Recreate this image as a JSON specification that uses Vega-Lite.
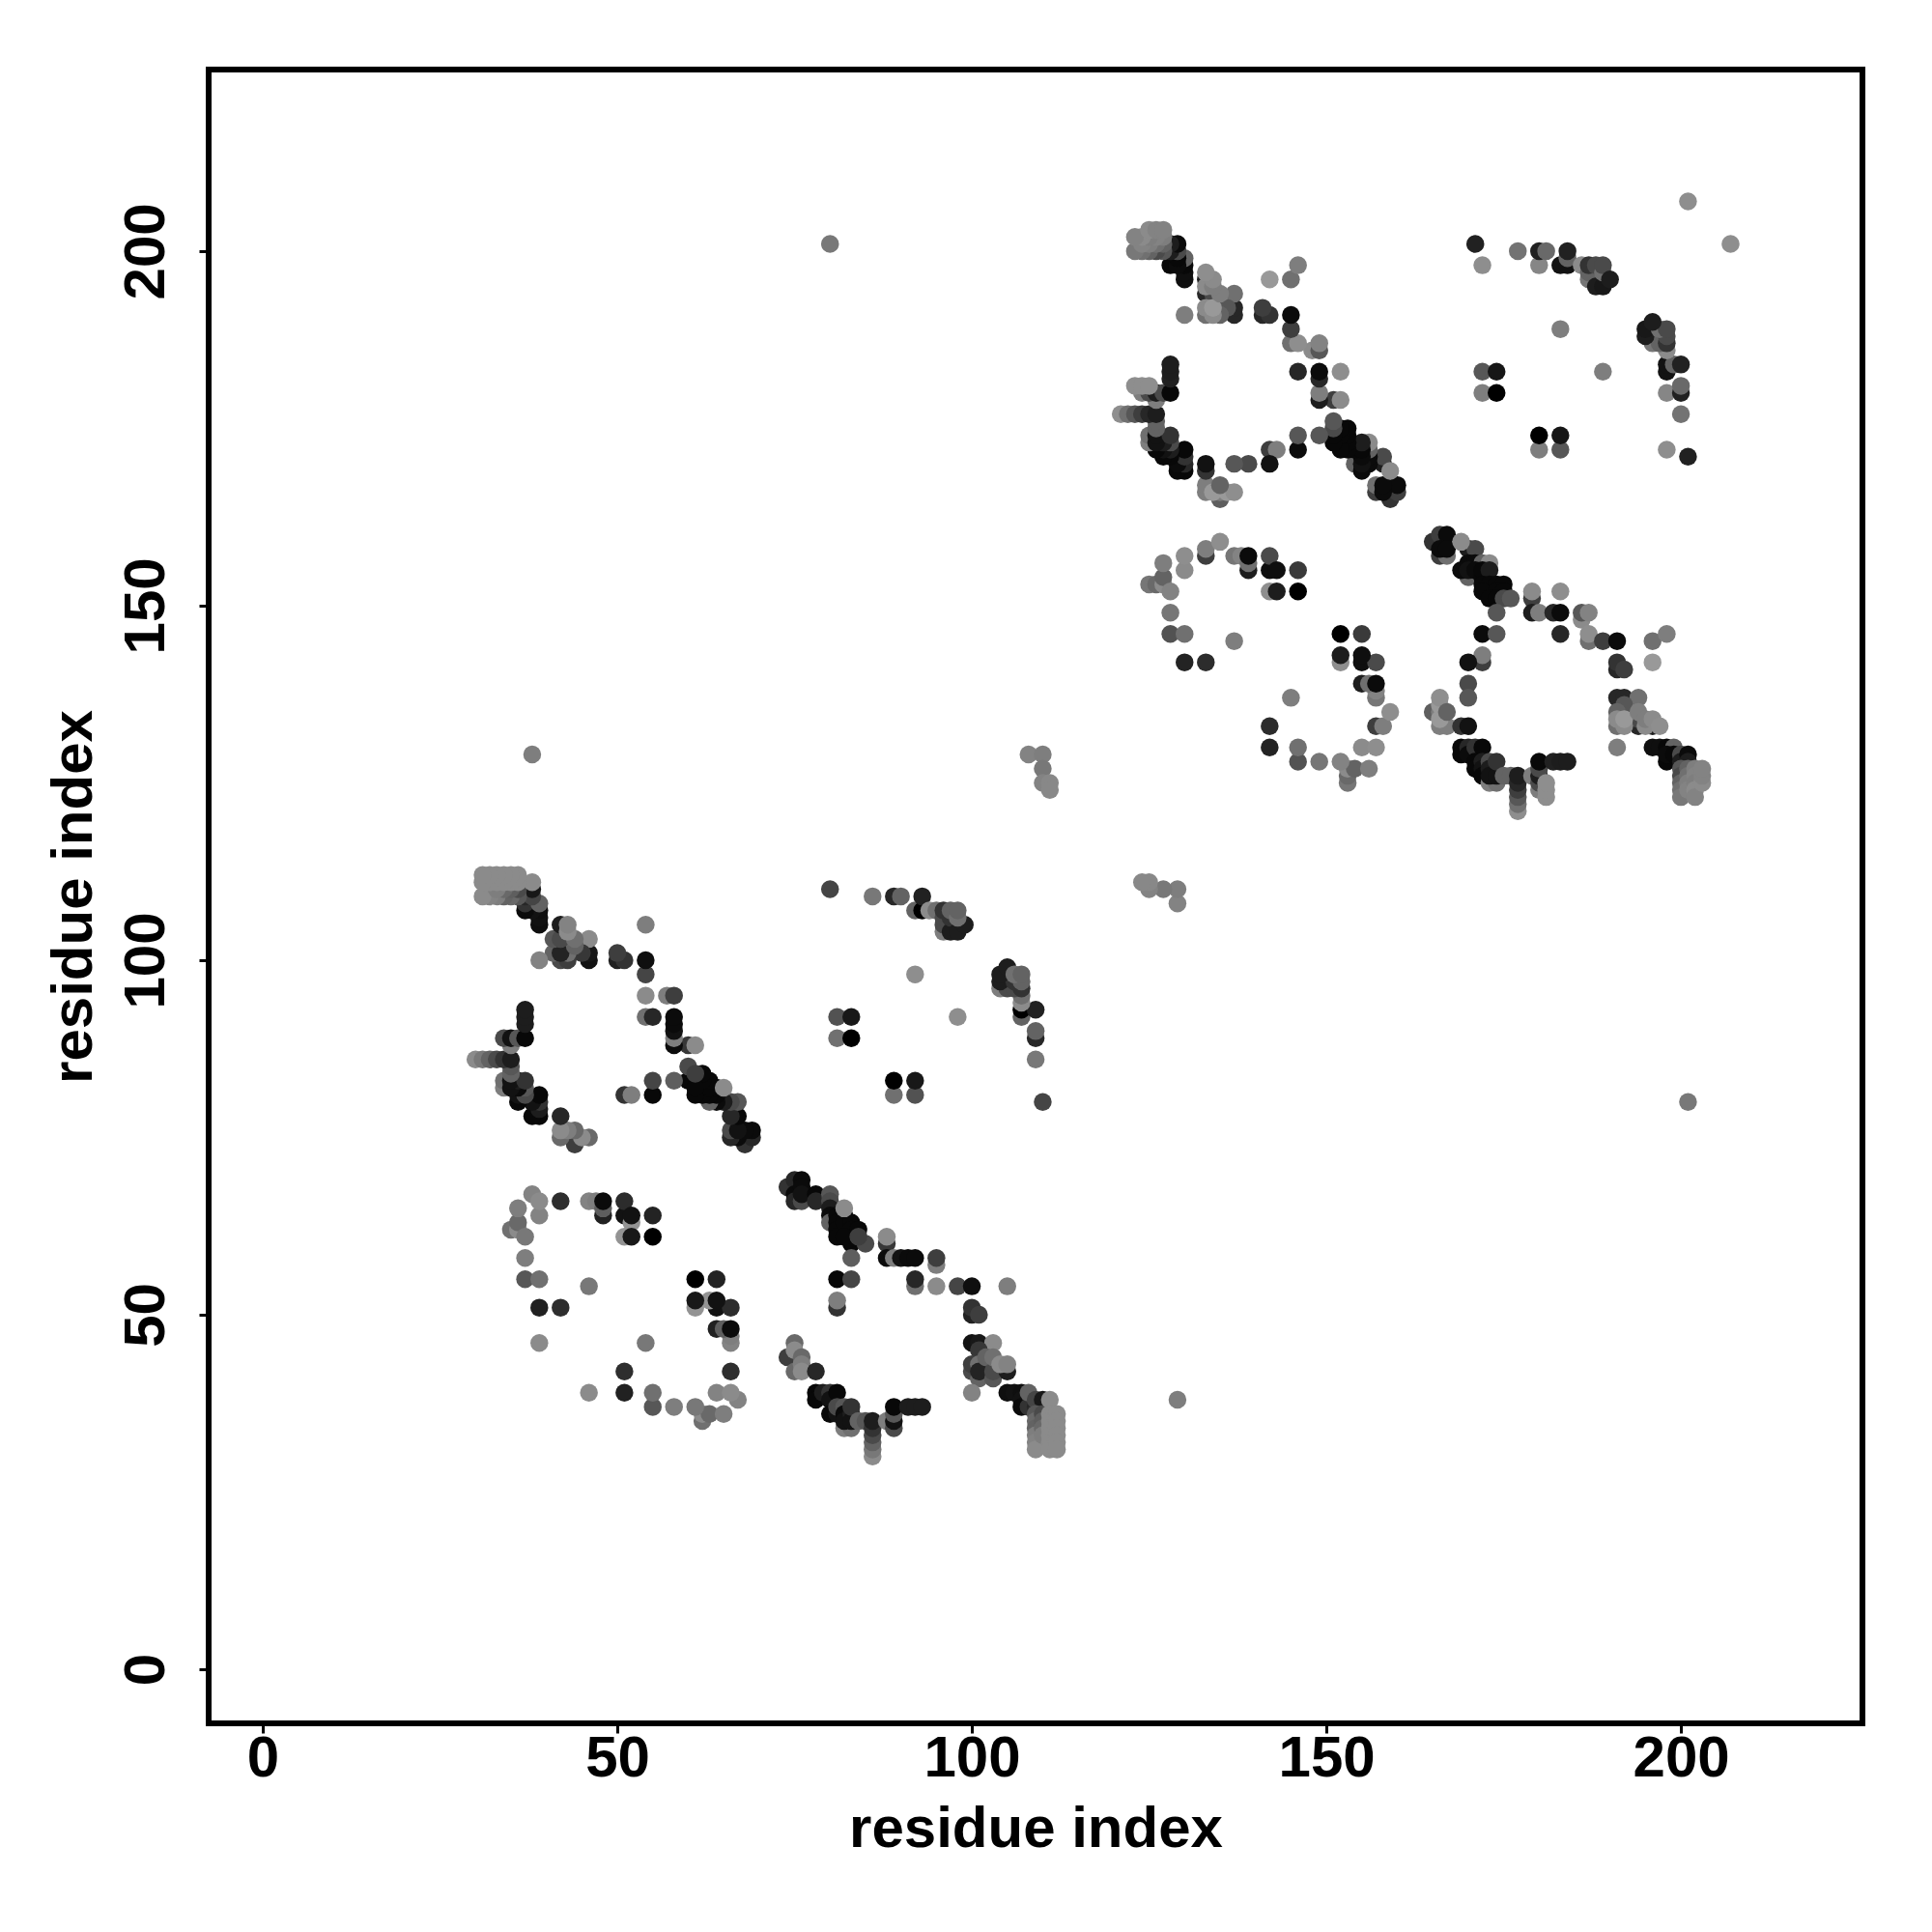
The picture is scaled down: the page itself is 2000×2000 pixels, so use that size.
{"$schema":"https://vega.github.io/schema/vega-lite/v6.json","width":1712,"height":1712,"autosize":{"type":"none"},"padding":{"left":216,"top":72,"right":72,"bottom":216},"background":"white","config":{"view":{"stroke":"#000000","strokeWidth":6}},"data":{"values":[
{"x":74,"y":68,"g":0.2},{"x":68,"y":74,"g":0.2},{"x":75,"y":69,"g":0.15},{"x":69,"y":75,"g":0.15},{"x":76,"y":69,"g":0.03},{"x":69,"y":76,"g":0.03},{"x":75,"y":67,"g":0.03},{"x":67,"y":75,"g":0.03},{"x":75,"y":66,"g":0.15},{"x":66,"y":75,"g":0.15},{"x":76,"y":66,"g":0.3},{"x":66,"y":76,"g":0.3},{"x":76,"y":68,"g":0.03},{"x":68,"y":76,"g":0.03},{"x":76,"y":67,"g":0.05},{"x":67,"y":76,"g":0.05},{"x":78,"y":67,"g":0.02},{"x":67,"y":78,"g":0.02},{"x":78,"y":66,"g":0.15},{"x":66,"y":78,"g":0.15},{"x":80,"y":67,"g":0.35},{"x":67,"y":80,"g":0.35},{"x":80,"y":66,"g":0.3},{"x":66,"y":80,"g":0.3},{"x":80,"y":65,"g":0.1},{"x":65,"y":80,"g":0.1},{"x":80,"y":64,"g":0.03},{"x":64,"y":80,"g":0.03},{"x":80,"y":63,"g":0.4},{"x":63,"y":80,"g":0.4},{"x":81,"y":64,"g":0.02},{"x":64,"y":81,"g":0.02},{"x":81,"y":63,"g":0.02},{"x":63,"y":81,"g":0.02},{"x":81,"y":62,"g":0.02},{"x":62,"y":81,"g":0.02},{"x":81,"y":61,"g":0.02},{"x":61,"y":81,"g":0.02},{"x":82,"y":64,"g":0.02},{"x":64,"y":82,"g":0.02},{"x":82,"y":63,"g":0.02},{"x":63,"y":82,"g":0.02},{"x":83,"y":63,"g":0.02},{"x":63,"y":83,"g":0.02},{"x":83,"y":62,"g":0.02},{"x":62,"y":83,"g":0.02},{"x":84,"y":62,"g":0.02},{"x":62,"y":84,"g":0.02},{"x":83,"y":60,"g":0.02},{"x":60,"y":83,"g":0.02},{"x":82,"y":61,"g":0.02},{"x":61,"y":82,"g":0.02},{"x":85,"y":60,"g":0.3},{"x":60,"y":85,"g":0.3},{"x":84,"y":61,"g":0.25},{"x":61,"y":84,"g":0.25},{"x":82,"y":65,"g":0.55},{"x":65,"y":82,"g":0.55},{"x":83,"y":58,"g":0.38},{"x":58,"y":83,"g":0.38},{"x":81,"y":55,"g":0.02},{"x":55,"y":81,"g":0.02},{"x":83,"y":55,"g":0.28},{"x":55,"y":83,"g":0.28},{"x":81,"y":51,"g":0.2},{"x":51,"y":81,"g":0.2},{"x":81,"y":52,"g":0.5},{"x":52,"y":81,"g":0.5},{"x":88,"y":60,"g":0.22},{"x":60,"y":88,"g":0.22},{"x":88,"y":61,"g":0.55},{"x":61,"y":88,"g":0.55},{"x":88,"y":58,"g":0.03},{"x":58,"y":88,"g":0.03},{"x":89,"y":58,"g":0.5},{"x":58,"y":89,"g":0.5},{"x":90,"y":58,"g":0.05},{"x":58,"y":90,"g":0.05},{"x":91,"y":58,"g":0.03},{"x":58,"y":91,"g":0.03},{"x":92,"y":58,"g":0.03},{"x":58,"y":92,"g":0.03},{"x":95,"y":57,"g":0.5},{"x":57,"y":95,"g":0.5},{"x":95,"y":58,"g":0.25},{"x":58,"y":95,"g":0.25},{"x":92,"y":54,"g":0.45},{"x":54,"y":92,"g":0.45},{"x":92,"y":55,"g":0.15},{"x":55,"y":92,"g":0.15},{"x":95,"y":54,"g":0.55},{"x":54,"y":95,"g":0.55},{"x":98,"y":54,"g":0.28},{"x":54,"y":98,"g":0.28},{"x":100,"y":54,"g":0.04},{"x":54,"y":100,"g":0.04},{"x":105,"y":54,"g":0.5},{"x":54,"y":105,"g":0.5},{"x":100,"y":50,"g":0.12},{"x":50,"y":100,"g":0.12},{"x":100,"y":51,"g":0.2},{"x":51,"y":100,"g":0.2},{"x":101,"y":50,"g":0.25},{"x":50,"y":101,"g":0.25},{"x":100,"y":46,"g":0.05},{"x":46,"y":100,"g":0.05},{"x":101,"y":46,"g":0.08},{"x":46,"y":101,"g":0.08},{"x":103,"y":46,"g":0.55},{"x":46,"y":103,"g":0.55},{"x":101,"y":45,"g":0.22},{"x":45,"y":101,"g":0.22},{"x":100,"y":42,"g":0.3},{"x":42,"y":100,"g":0.3},{"x":100,"y":43,"g":0.25},{"x":43,"y":100,"g":0.25},{"x":101,"y":41,"g":0.4},{"x":41,"y":101,"g":0.4},{"x":101,"y":43,"g":0.45},{"x":43,"y":101,"g":0.45},{"x":101,"y":42,"g":0.13},{"x":42,"y":101,"g":0.13},{"x":103,"y":41,"g":0.35},{"x":41,"y":103,"g":0.35},{"x":102,"y":44,"g":0.4},{"x":44,"y":102,"g":0.4},{"x":103,"y":42,"g":0.3},{"x":42,"y":103,"g":0.3},{"x":103,"y":44,"g":0.45},{"x":44,"y":103,"g":0.45},{"x":105,"y":42,"g":0.1},{"x":42,"y":105,"g":0.1},{"x":104,"y":43,"g":0.55},{"x":43,"y":104,"g":0.55},{"x":105,"y":43,"g":0.52},{"x":43,"y":105,"g":0.52},{"x":100,"y":39,"g":0.52},{"x":39,"y":100,"g":0.52},{"x":105,"y":39,"g":0.04},{"x":39,"y":105,"g":0.04},{"x":106,"y":39,"g":0.05},{"x":39,"y":106,"g":0.05},{"x":107,"y":39,"g":0.04},{"x":39,"y":107,"g":0.04},{"x":107,"y":38,"g":0.05},{"x":38,"y":107,"g":0.05},{"x":107,"y":37,"g":0.03},{"x":37,"y":107,"g":0.03},{"x":108,"y":37,"g":0.2},{"x":37,"y":108,"g":0.2},{"x":108,"y":39,"g":0.4},{"x":39,"y":108,"g":0.4},{"x":109,"y":37,"g":0.15},{"x":37,"y":109,"g":0.15},{"x":109,"y":38,"g":0.28},{"x":38,"y":109,"g":0.28},{"x":110,"y":38,"g":0.08},{"x":38,"y":110,"g":0.08},{"x":109,"y":36,"g":0.35},{"x":36,"y":109,"g":0.35},{"x":109,"y":35,"g":0.42},{"x":35,"y":109,"g":0.42},{"x":109,"y":34,"g":0.4},{"x":34,"y":109,"g":0.4},{"x":109,"y":33,"g":0.5},{"x":33,"y":109,"g":0.5},{"x":109,"y":32,"g":0.52},{"x":32,"y":109,"g":0.52},{"x":109,"y":31,"g":0.55},{"x":31,"y":109,"g":0.55},{"x":110,"y":36,"g":0.3},{"x":36,"y":110,"g":0.3},{"x":110,"y":35,"g":0.38},{"x":35,"y":110,"g":0.38},{"x":110,"y":34,"g":0.42},{"x":34,"y":110,"g":0.42},{"x":110,"y":33,"g":0.5},{"x":33,"y":110,"g":0.5},{"x":111,"y":38,"g":0.55},{"x":38,"y":111,"g":0.55},{"x":111,"y":36,"g":0.55},{"x":36,"y":111,"g":0.55},{"x":111,"y":35,"g":0.55},{"x":35,"y":111,"g":0.55},{"x":111,"y":34,"g":0.55},{"x":34,"y":111,"g":0.55},{"x":111,"y":33,"g":0.55},{"x":33,"y":111,"g":0.55},{"x":111,"y":32,"g":0.55},{"x":32,"y":111,"g":0.55},{"x":111,"y":31,"g":0.55},{"x":31,"y":111,"g":0.55},{"x":112,"y":36,"g":0.55},{"x":36,"y":112,"g":0.55},{"x":112,"y":35,"g":0.55},{"x":35,"y":112,"g":0.55},{"x":112,"y":34,"g":0.55},{"x":34,"y":112,"g":0.55},{"x":112,"y":33,"g":0.55},{"x":33,"y":112,"g":0.55},{"x":112,"y":32,"g":0.55},{"x":32,"y":112,"g":0.55},{"x":112,"y":31,"g":0.55},{"x":31,"y":112,"g":0.55},
{"x":74,"y":44,"g":0.25},{"x":44,"y":74,"g":0.25},{"x":75,"y":42,"g":0.42},{"x":42,"y":75,"g":0.42},{"x":75,"y":46,"g":0.42},{"x":46,"y":75,"g":0.42},{"x":75,"y":45,"g":0.55},{"x":45,"y":75,"g":0.55},{"x":76,"y":44,"g":0.42},{"x":44,"y":76,"g":0.42},{"x":76,"y":43,"g":0.5},{"x":43,"y":76,"g":0.5},{"x":76,"y":42,"g":0.55},{"x":42,"y":76,"g":0.55},{"x":78,"y":42,"g":0.15},{"x":42,"y":78,"g":0.15},{"x":78,"y":39,"g":0.02},{"x":39,"y":78,"g":0.02},{"x":78,"y":38,"g":0.02},{"x":38,"y":78,"g":0.02},{"x":79,"y":39,"g":0.1},{"x":39,"y":79,"g":0.1},{"x":80,"y":39,"g":0.2},{"x":39,"y":80,"g":0.2},{"x":80,"y":38,"g":0.05},{"x":38,"y":80,"g":0.05},{"x":80,"y":36,"g":0.02},{"x":36,"y":80,"g":0.02},{"x":81,"y":39,"g":0.02},{"x":39,"y":81,"g":0.02},{"x":81,"y":36,"g":0.05},{"x":36,"y":81,"g":0.05},{"x":81,"y":37,"g":0.3},{"x":37,"y":81,"g":0.3},{"x":82,"y":34,"g":0.5},{"x":34,"y":82,"g":0.5},{"x":83,"y":34,"g":0.45},{"x":34,"y":83,"g":0.45},{"x":82,"y":37,"g":0.35},{"x":37,"y":82,"g":0.35},{"x":82,"y":36,"g":0.03},{"x":36,"y":82,"g":0.03},{"x":82,"y":35,"g":0.05},{"x":35,"y":82,"g":0.05},{"x":83,"y":36,"g":0.1},{"x":36,"y":83,"g":0.1},{"x":83,"y":35,"g":0.05},{"x":35,"y":83,"g":0.05},{"x":83,"y":37,"g":0.2},{"x":37,"y":83,"g":0.2},{"x":84,"y":35,"g":0.4},{"x":35,"y":84,"g":0.4},{"x":85,"y":35,"g":0.35},{"x":35,"y":85,"g":0.35},{"x":86,"y":30,"g":0.55},{"x":30,"y":86,"g":0.55},{"x":86,"y":31,"g":0.48},{"x":31,"y":86,"g":0.48},{"x":86,"y":32,"g":0.4},{"x":32,"y":86,"g":0.4},{"x":86,"y":33,"g":0.3},{"x":33,"y":86,"g":0.3},{"x":86,"y":34,"g":0.2},{"x":34,"y":86,"g":0.2},{"x":86,"y":35,"g":0.1},{"x":35,"y":86,"g":0.1},{"x":88,"y":35,"g":0.5},{"x":35,"y":88,"g":0.5},{"x":89,"y":34,"g":0.3},{"x":34,"y":89,"g":0.3},{"x":89,"y":35,"g":0.05},{"x":35,"y":89,"g":0.05},{"x":89,"y":36,"g":0.35},{"x":36,"y":89,"g":0.35},{"x":89,"y":37,"g":0.02},{"x":37,"y":89,"g":0.02},{"x":91,"y":37,"g":0.1},{"x":37,"y":91,"g":0.1},{"x":92,"y":37,"g":0.1},{"x":37,"y":92,"g":0.1},{"x":93,"y":37,"g":0.1},{"x":37,"y":93,"g":0.1},
{"x":35,"y":62,"g":0.45},{"x":62,"y":35,"g":0.45},{"x":36,"y":62,"g":0.55},{"x":62,"y":36,"g":0.55},{"x":36,"y":63,"g":0.42},{"x":63,"y":36,"g":0.42},{"x":36,"y":65,"g":0.5},{"x":65,"y":36,"g":0.5},{"x":37,"y":55,"g":0.35},{"x":55,"y":37,"g":0.35},{"x":37,"y":58,"g":0.5},{"x":58,"y":37,"g":0.5},{"x":37,"y":61,"g":0.48},{"x":61,"y":37,"g":0.48},{"x":38,"y":67,"g":0.52},{"x":67,"y":38,"g":0.52},{"x":39,"y":46,"g":0.55},{"x":46,"y":39,"g":0.55},{"x":39,"y":51,"g":0.12},{"x":51,"y":39,"g":0.12},{"x":39,"y":55,"g":0.45},{"x":55,"y":39,"g":0.45},{"x":39,"y":64,"g":0.52},{"x":64,"y":39,"g":0.52},{"x":39,"y":66,"g":0.55},{"x":66,"y":39,"g":0.55},{"x":42,"y":51,"g":0.18},{"x":51,"y":42,"g":0.18},{"x":42,"y":66,"g":0.18},{"x":66,"y":42,"g":0.18},{"x":46,"y":54,"g":0.48},{"x":54,"y":46,"g":0.48},{"x":46,"y":66,"g":0.52},{"x":66,"y":46,"g":0.52},{"x":47,"y":66,"g":0.5},{"x":66,"y":47,"g":0.5},{"x":48,"y":64,"g":0.12},{"x":64,"y":48,"g":0.12},{"x":48,"y":65,"g":0.38},{"x":65,"y":48,"g":0.38},{"x":48,"y":66,"g":0.03},{"x":66,"y":48,"g":0.03},{"x":51,"y":61,"g":0.58},{"x":61,"y":51,"g":0.58},{"x":51,"y":64,"g":0.05},{"x":64,"y":51,"g":0.05},{"x":51,"y":66,"g":0.17},{"x":66,"y":51,"g":0.17},{"x":52,"y":63,"g":0.58},{"x":63,"y":52,"g":0.58},{"x":52,"y":61,"g":0.08},{"x":61,"y":52,"g":0.08},{"x":52,"y":64,"g":0.05},{"x":64,"y":52,"g":0.05},{"x":55,"y":61,"g":0},{"x":61,"y":55,"g":0},{"x":55,"y":64,"g":0.13},{"x":64,"y":55,"g":0.13},
{"x":80,"y":110,"g":0.28},{"x":110,"y":80,"g":0.28},{"x":81,"y":89,"g":0.45},{"x":89,"y":81,"g":0.45},{"x":81,"y":92,"g":0.33},{"x":92,"y":81,"g":0.33},{"x":83,"y":89,"g":0},{"x":89,"y":83,"g":0},{"x":83,"y":92,"g":0.08},{"x":92,"y":83,"g":0.08},{"x":86,"y":109,"g":0.48},{"x":109,"y":86,"g":0.48},{"x":89,"y":109,"g":0.15},{"x":109,"y":89,"g":0.15},{"x":90,"y":109,"g":0.4},{"x":109,"y":90,"g":0.4},{"x":92,"y":98,"g":0.56},{"x":98,"y":92,"g":0.56},{"x":92,"y":107,"g":0.4},{"x":107,"y":92,"g":0.4},{"x":93,"y":107,"g":0},{"x":107,"y":93,"g":0},{"x":93,"y":109,"g":0.12},{"x":109,"y":93,"g":0.12},{"x":94,"y":107,"g":0.55},{"x":107,"y":94,"g":0.55},{"x":95,"y":107,"g":0.45},{"x":107,"y":95,"g":0.45},{"x":96,"y":104,"g":0.5},{"x":104,"y":96,"g":0.5},{"x":96,"y":105,"g":0.3},{"x":105,"y":96,"g":0.3},{"x":96,"y":106,"g":0.3},{"x":106,"y":96,"g":0.3},{"x":96,"y":107,"g":0.2},{"x":107,"y":96,"g":0.2},{"x":97,"y":104,"g":0.1},{"x":104,"y":97,"g":0.1},{"x":97,"y":106,"g":0.2},{"x":106,"y":97,"g":0.2},{"x":98,"y":104,"g":0.1},{"x":104,"y":98,"g":0.1},{"x":99,"y":105,"g":0.1},{"x":105,"y":99,"g":0.1},{"x":97,"y":107,"g":0.4},{"x":107,"y":97,"g":0.4},{"x":98,"y":106,"g":0.45},{"x":106,"y":98,"g":0.45},{"x":98,"y":107,"g":0.4},{"x":107,"y":98,"g":0.4},
{"x":165,"y":159,"g":0.2},{"x":159,"y":165,"g":0.2},{"x":166,"y":160,"g":0.25},{"x":160,"y":166,"g":0.25},{"x":167,"y":160,"g":0.03},{"x":160,"y":167,"g":0.03},{"x":166,"y":157,"g":0.25},{"x":157,"y":166,"g":0.25},{"x":167,"y":157,"g":0.45},{"x":157,"y":167,"g":0.45},{"x":166,"y":158,"g":0.03},{"x":158,"y":166,"g":0.03},{"x":167,"y":158,"g":0.03},{"x":158,"y":167,"g":0.03},{"x":170,"y":158,"g":0.1},{"x":158,"y":170,"g":0.1},{"x":171,"y":158,"g":0.3},{"x":158,"y":171,"g":0.3},{"x":169,"y":159,"g":0.55},{"x":159,"y":169,"g":0.55},{"x":170,"y":156,"g":0.03},{"x":156,"y":170,"g":0.03},{"x":171,"y":156,"g":0.03},{"x":156,"y":171,"g":0.03},{"x":172,"y":156,"g":0.4},{"x":156,"y":172,"g":0.4},{"x":173,"y":156,"g":0.55},{"x":156,"y":173,"g":0.55},{"x":170,"y":154,"g":0.4},{"x":154,"y":170,"g":0.4},{"x":169,"y":155,"g":0.03},{"x":155,"y":169,"g":0.03},{"x":170,"y":155,"g":0.05},{"x":155,"y":170,"g":0.05},{"x":171,"y":155,"g":0.03},{"x":155,"y":171,"g":0.03},{"x":172,"y":154,"g":0.02},{"x":154,"y":172,"g":0.02},{"x":172,"y":155,"g":0.02},{"x":155,"y":172,"g":0.02},{"x":173,"y":155,"g":0.1},{"x":155,"y":173,"g":0.1},{"x":172,"y":153,"g":0.02},{"x":153,"y":172,"g":0.02},{"x":173,"y":153,"g":0.02},{"x":153,"y":173,"g":0.02},{"x":174,"y":153,"g":0.02},{"x":153,"y":174,"g":0.02},{"x":175,"y":153,"g":0.02},{"x":153,"y":175,"g":0.02},{"x":172,"y":152,"g":0.02},{"x":152,"y":172,"g":0.02},{"x":174,"y":152,"g":0.02},{"x":152,"y":174,"g":0.02},{"x":175,"y":152,"g":0.02},{"x":152,"y":175,"g":0.02},{"x":173,"y":151,"g":0.02},{"x":151,"y":173,"g":0.02},{"x":174,"y":151,"g":0.02},{"x":151,"y":174,"g":0.02},{"x":175,"y":151,"g":0.3},{"x":151,"y":175,"g":0.3},{"x":176,"y":151,"g":0.35},{"x":151,"y":176,"g":0.35},{"x":174,"y":149,"g":0.35},{"x":149,"y":174,"g":0.35},{"x":172,"y":146,"g":0.03},{"x":146,"y":172,"g":0.03},{"x":174,"y":146,"g":0.35},{"x":146,"y":174,"g":0.35},{"x":172,"y":142,"g":0.25},{"x":142,"y":172,"g":0.25},{"x":172,"y":143,"g":0.5},{"x":143,"y":172,"g":0.5},{"x":170,"y":142,"g":0.05},{"x":142,"y":170,"g":0.05},{"x":170,"y":139,"g":0.3},{"x":139,"y":170,"g":0.3},{"x":170,"y":137,"g":0.35},{"x":137,"y":170,"g":0.35},{"x":179,"y":151,"g":0.25},{"x":151,"y":179,"g":0.25},{"x":179,"y":152,"g":0.55},{"x":152,"y":179,"g":0.55},{"x":179,"y":149,"g":0.1},{"x":149,"y":179,"g":0.1},{"x":180,"y":149,"g":0.5},{"x":149,"y":180,"g":0.5},{"x":182,"y":149,"g":0.15},{"x":149,"y":182,"g":0.15},{"x":183,"y":149,"g":0.03},{"x":149,"y":183,"g":0.03},{"x":183,"y":152,"g":0.56},{"x":152,"y":183,"g":0.56},{"x":183,"y":146,"g":0.15},{"x":146,"y":183,"g":0.15},{"x":186,"y":148,"g":0.55},{"x":148,"y":186,"g":0.55},{"x":186,"y":149,"g":0.35},{"x":149,"y":186,"g":0.35},{"x":187,"y":149,"g":0.52},{"x":149,"y":187,"g":0.52},{"x":187,"y":145,"g":0.45},{"x":145,"y":187,"g":0.45},{"x":187,"y":146,"g":0.56},{"x":146,"y":187,"g":0.56},{"x":189,"y":145,"g":0.25},{"x":145,"y":189,"g":0.25},{"x":191,"y":145,"g":0.03},{"x":145,"y":191,"g":0.03},{"x":196,"y":145,"g":0.45},{"x":145,"y":196,"g":0.45},{"x":198,"y":146,"g":0.5},{"x":146,"y":198,"g":0.5},{"x":196,"y":142,"g":0.6},{"x":142,"y":196,"g":0.6},{"x":191,"y":141,"g":0.15},{"x":141,"y":191,"g":0.15},{"x":191,"y":142,"g":0.2},{"x":142,"y":191,"g":0.2},{"x":192,"y":141,"g":0.25},{"x":141,"y":192,"g":0.25},{"x":191,"y":137,"g":0.15},{"x":137,"y":191,"g":0.15},{"x":192,"y":137,"g":0.15},{"x":137,"y":192,"g":0.15},{"x":194,"y":137,"g":0.45},{"x":137,"y":194,"g":0.45},{"x":192,"y":136,"g":0.35},{"x":136,"y":192,"g":0.35},{"x":191,"y":135,"g":0.4},{"x":135,"y":191,"g":0.4},{"x":194,"y":133,"g":0.15},{"x":133,"y":194,"g":0.15},{"x":194,"y":134,"g":0.3},{"x":134,"y":194,"g":0.3},{"x":191,"y":133,"g":0.45},{"x":133,"y":191,"g":0.45},{"x":191,"y":134,"g":0.55},{"x":134,"y":191,"g":0.55},{"x":192,"y":133,"g":0.55},{"x":133,"y":192,"g":0.55},{"x":192,"y":134,"g":0.6},{"x":134,"y":192,"g":0.6},{"x":194,"y":135,"g":0.5},{"x":135,"y":194,"g":0.5},{"x":196,"y":133,"g":0.1},{"x":133,"y":196,"g":0.1},{"x":195,"y":133,"g":0.55},{"x":133,"y":195,"g":0.55},{"x":195,"y":134,"g":0.5},{"x":134,"y":195,"g":0.5},{"x":196,"y":134,"g":0.55},{"x":134,"y":196,"g":0.55},{"x":197,"y":133,"g":0.56},{"x":133,"y":197,"g":0.56},{"x":191,"y":130,"g":0.5},{"x":130,"y":191,"g":0.5},{"x":196,"y":130,"g":0.04},{"x":130,"y":196,"g":0.04},{"x":197,"y":130,"g":0.04},{"x":130,"y":197,"g":0.04},{"x":198,"y":130,"g":0.02},{"x":130,"y":198,"g":0.02},{"x":199,"y":130,"g":0.4},{"x":130,"y":199,"g":0.4},{"x":198,"y":128,"g":0.02},{"x":128,"y":198,"g":0.02},{"x":198,"y":129,"g":0.03},{"x":129,"y":198,"g":0.03},{"x":199,"y":129,"g":0.02},{"x":129,"y":199,"g":0.02},{"x":200,"y":129,"g":0.3},{"x":129,"y":200,"g":0.3},{"x":200,"y":128,"g":0.1},{"x":128,"y":200,"g":0.1},{"x":201,"y":129,"g":0.03},{"x":129,"y":201,"g":0.03},{"x":201,"y":128,"g":0.1},{"x":128,"y":201,"g":0.1},{"x":200,"y":127,"g":0.35},{"x":127,"y":200,"g":0.35},{"x":200,"y":126,"g":0.3},{"x":126,"y":200,"g":0.3},{"x":200,"y":125,"g":0.4},{"x":125,"y":200,"g":0.4},{"x":200,"y":124,"g":0.45},{"x":124,"y":200,"g":0.45},{"x":200,"y":123,"g":0.48},{"x":123,"y":200,"g":0.48},{"x":201,"y":127,"g":0.4},{"x":127,"y":201,"g":0.4},{"x":201,"y":126,"g":0.45},{"x":126,"y":201,"g":0.45},{"x":201,"y":125,"g":0.5},{"x":125,"y":201,"g":0.5},{"x":201,"y":124,"g":0.52},{"x":124,"y":201,"g":0.52},{"x":202,"y":127,"g":0.5},{"x":127,"y":202,"g":0.5},{"x":202,"y":126,"g":0.52},{"x":126,"y":202,"g":0.52},{"x":202,"y":125,"g":0.5},{"x":125,"y":202,"g":0.5},{"x":202,"y":124,"g":0.55},{"x":124,"y":202,"g":0.55},{"x":202,"y":123,"g":0.52},{"x":123,"y":202,"g":0.52},{"x":203,"y":125,"g":0.55},{"x":125,"y":203,"g":0.55},{"x":203,"y":126,"g":0.52},{"x":126,"y":203,"g":0.52},{"x":203,"y":127,"g":0.52},{"x":127,"y":203,"g":0.52},
{"x":165,"y":135,"g":0.38},{"x":135,"y":165,"g":0.38},{"x":166,"y":133,"g":0.5},{"x":133,"y":166,"g":0.5},{"x":167,"y":133,"g":0.5},{"x":133,"y":167,"g":0.5},{"x":166,"y":135,"g":0.5},{"x":135,"y":166,"g":0.5},{"x":166,"y":134,"g":0.6},{"x":134,"y":166,"g":0.6},{"x":166,"y":136,"g":0.6},{"x":136,"y":166,"g":0.6},{"x":166,"y":137,"g":0.56},{"x":137,"y":166,"g":0.56},{"x":167,"y":135,"g":0.4},{"x":135,"y":167,"g":0.4},{"x":169,"y":133,"g":0.2},{"x":133,"y":169,"g":0.2},{"x":170,"y":133,"g":0.05},{"x":133,"y":170,"g":0.05},{"x":169,"y":130,"g":0.02},{"x":130,"y":169,"g":0.02},{"x":169,"y":129,"g":0.02},{"x":129,"y":169,"g":0.02},{"x":170,"y":130,"g":0.15},{"x":130,"y":170,"g":0.15},{"x":170,"y":129,"g":0.03},{"x":129,"y":170,"g":0.03},{"x":171,"y":130,"g":0.2},{"x":130,"y":171,"g":0.2},{"x":172,"y":130,"g":0.02},{"x":130,"y":172,"g":0.02},{"x":171,"y":128,"g":0.02},{"x":128,"y":171,"g":0.02},{"x":171,"y":127,"g":0.02},{"x":127,"y":171,"g":0.02},{"x":172,"y":128,"g":0.1},{"x":128,"y":172,"g":0.1},{"x":172,"y":127,"g":0.05},{"x":127,"y":172,"g":0.05},{"x":173,"y":128,"g":0.3},{"x":128,"y":173,"g":0.3},{"x":172,"y":126,"g":0.02},{"x":126,"y":172,"g":0.02},{"x":173,"y":127,"g":0.1},{"x":127,"y":173,"g":0.1},{"x":173,"y":125,"g":0.5},{"x":125,"y":173,"g":0.5},{"x":174,"y":125,"g":0.45},{"x":125,"y":174,"g":0.45},{"x":173,"y":126,"g":0.05},{"x":126,"y":173,"g":0.05},{"x":174,"y":126,"g":0.05},{"x":126,"y":174,"g":0.05},{"x":174,"y":128,"g":0.2},{"x":128,"y":174,"g":0.2},{"x":175,"y":126,"g":0.4},{"x":126,"y":175,"g":0.4},{"x":176,"y":126,"g":0.4},{"x":126,"y":176,"g":0.4},{"x":177,"y":121,"g":0.56},{"x":121,"y":177,"g":0.56},{"x":177,"y":122,"g":0.45},{"x":122,"y":177,"g":0.45},{"x":177,"y":123,"g":0.35},{"x":123,"y":177,"g":0.35},{"x":177,"y":124,"g":0.25},{"x":124,"y":177,"g":0.25},{"x":177,"y":125,"g":0.15},{"x":125,"y":177,"g":0.15},{"x":177,"y":126,"g":0.1},{"x":126,"y":177,"g":0.1},{"x":179,"y":126,"g":0.5},{"x":126,"y":179,"g":0.5},{"x":180,"y":124,"g":0.5},{"x":124,"y":180,"g":0.5},{"x":180,"y":125,"g":0.3},{"x":125,"y":180,"g":0.3},{"x":180,"y":126,"g":0.1},{"x":126,"y":180,"g":0.1},{"x":180,"y":127,"g":0.3},{"x":127,"y":180,"g":0.3},{"x":180,"y":128,"g":0.02},{"x":128,"y":180,"g":0.02},{"x":181,"y":123,"g":0.56},{"x":123,"y":181,"g":0.56},{"x":181,"y":124,"g":0.56},{"x":124,"y":181,"g":0.56},{"x":181,"y":125,"g":0.56},{"x":125,"y":181,"g":0.56},{"x":182,"y":128,"g":0.12},{"x":128,"y":182,"g":0.12},{"x":183,"y":128,"g":0.1},{"x":128,"y":183,"g":0.1},{"x":184,"y":128,"g":0.1},{"x":128,"y":184,"g":0.1},
{"x":125,"y":153,"g":0.47},{"x":153,"y":125,"g":0.47},{"x":126,"y":153,"g":0.42},{"x":153,"y":126,"g":0.42},{"x":127,"y":153,"g":0.55},{"x":153,"y":127,"g":0.55},{"x":127,"y":154,"g":0.4},{"x":154,"y":127,"g":0.4},{"x":127,"y":156,"g":0.5},{"x":156,"y":127,"g":0.5},{"x":128,"y":146,"g":0.33},{"x":146,"y":128,"g":0.33},{"x":128,"y":149,"g":0.47},{"x":149,"y":128,"g":0.47},{"x":128,"y":152,"g":0.52},{"x":152,"y":128,"g":0.52},{"x":130,"y":142,"g":0.13},{"x":142,"y":130,"g":0.13},{"x":130,"y":146,"g":0.45},{"x":146,"y":130,"g":0.45},{"x":130,"y":155,"g":0.55},{"x":155,"y":130,"g":0.55},{"x":130,"y":157,"g":0.56},{"x":157,"y":130,"g":0.56},{"x":133,"y":142,"g":0.17},{"x":142,"y":133,"g":0.17},{"x":133,"y":157,"g":0.25},{"x":157,"y":133,"g":0.25},{"x":133,"y":158,"g":0.5},{"x":158,"y":133,"g":0.5},{"x":135,"y":159,"g":0.56},{"x":159,"y":135,"g":0.56},{"x":137,"y":145,"g":0.5},{"x":145,"y":137,"g":0.5},{"x":137,"y":157,"g":0.47},{"x":157,"y":137,"g":0.47},{"x":138,"y":157,"g":0.52},{"x":157,"y":138,"g":0.52},{"x":139,"y":155,"g":0.1},{"x":155,"y":139,"g":0.1},{"x":139,"y":156,"g":0.45},{"x":156,"y":139,"g":0.45},{"x":139,"y":157,"g":0.03},{"x":157,"y":139,"g":0.03},{"x":142,"y":152,"g":0.56},{"x":152,"y":142,"g":0.56},{"x":142,"y":155,"g":0.04},{"x":155,"y":142,"g":0.04},{"x":142,"y":157,"g":0.3},{"x":157,"y":142,"g":0.3},{"x":143,"y":152,"g":0.1},{"x":152,"y":143,"g":0.1},{"x":143,"y":155,"g":0.04},{"x":155,"y":143,"g":0.04},{"x":146,"y":152,"g":0},{"x":152,"y":146,"g":0},{"x":146,"y":155,"g":0.23},{"x":155,"y":146,"g":0.23},
{"x":171,"y":201,"g":0.12},{"x":201,"y":171,"g":0.12},{"x":172,"y":180,"g":0.5},{"x":180,"y":172,"g":0.5},{"x":172,"y":183,"g":0.35},{"x":183,"y":172,"g":0.35},{"x":172,"y":198,"g":0.56},{"x":198,"y":172,"g":0.56},{"x":174,"y":180,"g":0},{"x":180,"y":174,"g":0},{"x":174,"y":183,"g":0.07},{"x":183,"y":174,"g":0.07},{"x":177,"y":200,"g":0.46},{"x":200,"y":177,"g":0.46},{"x":180,"y":198,"g":0.53},{"x":198,"y":180,"g":0.53},{"x":180,"y":200,"g":0.12},{"x":200,"y":180,"g":0.12},{"x":181,"y":200,"g":0.42},{"x":200,"y":181,"g":0.42},{"x":183,"y":189,"g":0.5},{"x":189,"y":183,"g":0.5},{"x":183,"y":198,"g":0.05},{"x":198,"y":183,"g":0.05},{"x":184,"y":198,"g":0.05},{"x":198,"y":184,"g":0.05},{"x":184,"y":199,"g":0.4},{"x":199,"y":184,"g":0.4},{"x":184,"y":200,"g":0.12},{"x":200,"y":184,"g":0.12},{"x":186,"y":198,"g":0.55},{"x":198,"y":186,"g":0.55},{"x":187,"y":196,"g":0.47},{"x":196,"y":187,"g":0.47},{"x":187,"y":197,"g":0.4},{"x":197,"y":187,"g":0.4},{"x":187,"y":198,"g":0.2},{"x":198,"y":187,"g":0.2},{"x":188,"y":195,"g":0.1},{"x":195,"y":188,"g":0.1},{"x":188,"y":198,"g":0.3},{"x":198,"y":188,"g":0.3},{"x":189,"y":195,"g":0.08},{"x":195,"y":189,"g":0.08},{"x":189,"y":197,"g":0.45},{"x":197,"y":189,"g":0.45},{"x":189,"y":198,"g":0.3},{"x":198,"y":189,"g":0.3},{"x":190,"y":196,"g":0.1},{"x":196,"y":190,"g":0.1},{"x":201,"y":207,"g":0.56},{"x":207,"y":201,"g":0.56},
{"x":80,"y":201,"g":0.48},{"x":201,"y":80,"g":0.48},{"x":38,"y":129,"g":0.5},{"x":129,"y":38,"g":0.5},{"x":108,"y":129,"g":0.52},{"x":129,"y":108,"g":0.52},{"x":110,"y":129,"g":0.5},{"x":129,"y":110,"g":0.5},{"x":110,"y":127,"g":0.48},{"x":127,"y":110,"g":0.48},{"x":110,"y":125,"g":0.52},{"x":125,"y":110,"g":0.52},{"x":111,"y":125,"g":0.54},{"x":125,"y":111,"g":0.54},{"x":111,"y":124,"g":0.54},{"x":124,"y":111,"g":0.54}
]},"mark":{"type":"point","filled":true,"opacity":1,"size":342,"strokeWidth":0},"encoding":{"x":{"field":"x","type":"quantitative","scale":{"domain":[-7.63,225.6],"nice":false,"zero":false},"axis":{"title":"residue index","values":[0,50,100,150,200],"grid":false,"domain":false,"ticks":true,"tickColor":"#000000","tickWidth":3,"tickSize":10,"labelFont":"Liberation Sans","labelFontWeight":"bold","labelFontSize":60,"labelColor":"#000000","labelPadding":-3,"labelAngle":0,"labelFlush":false,"titleFont":"Liberation Sans","titleFontWeight":"bold","titleFontSize":60,"titleColor":"#000000","titlePadding":14}},"y":{"field":"y","type":"quantitative","scale":{"domain":[-7.63,225.6],"nice":false,"zero":false},"axis":{"title":"residue index","values":[0,50,100,150,200],"grid":false,"domain":false,"ticks":true,"tickColor":"#000000","tickWidth":3,"tickSize":10,"labelFont":"Liberation Sans","labelFontWeight":"bold","labelFontSize":60,"labelColor":"#000000","labelPadding":24,"labelAngle":270,"labelAlign":"center","labelBaseline":"bottom","labelFlush":false,"titleFont":"Liberation Sans","titleFontWeight":"bold","titleFontSize":60,"titleColor":"#000000","titlePadding":14}},"color":{"field":"g","type":"quantitative","scale":{"domain":[0,0.95],"range":["#000000","#ffffff"]},"legend":null}}}
